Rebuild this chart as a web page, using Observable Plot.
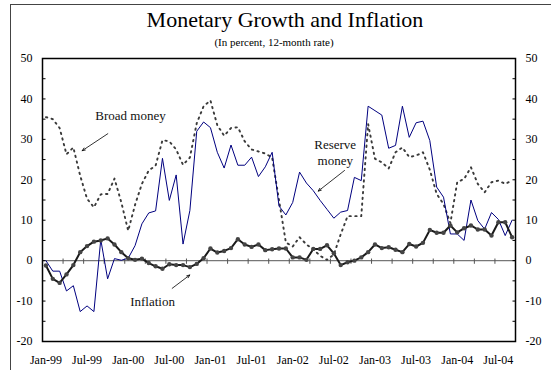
<!DOCTYPE html>
<html>
<head>
<meta charset="utf-8">
<script src="https://cdn.jsdelivr.net/npm/d3@7"></script>
<script src="https://cdn.jsdelivr.net/npm/@observablehq/plot@0.6"></script>
<style>
  html, body { margin: 0; padding: 0; background: #fff; }
  #wrap { position: relative; width: 551px; height: 370px; overflow: hidden;
          font-family: "Liberation Serif", "Times New Roman", serif; color: #000; }
  #border { position: absolute; left: 10px; top: 4px; width: 700px; height: 500px;
            border: 1px solid #444; box-sizing: border-box; }
  #title { position: absolute; left: 0; width: 570px; top: 8.6px; text-align: center;
           font-size: 22px; line-height: 22px; white-space: nowrap; }
  #subtitle { position: absolute; left: 0; width: 548px; top: 37px; text-align: center;
              font-size: 11px; line-height: 11px; white-space: nowrap; }
  #chart { position: absolute; left: 0; top: 0; }
</style>
</head>
<body>
<div id="wrap">
  <div id="border"></div>
  <div id="title">Monetary Growth and Inflation</div>
  <div id="subtitle">(In percent, 12-month rate)</div>
  <div id="chart"></div>
</div>
<script>
// Monthly data, Jan-99 .. Sep-04 (69 months)
const broadMoney = [
  35.5, 35.0, 32.8, 26.3, 28.0, 21.0, 15.3, 13.2, 16.4, 16.5, 20.3, 14.4,
  7.4, 13.8, 19.0, 22.3, 23.5, 29.8, 29.5, 27.5, 23.7, 25.5, 34.0, 38.2,
  39.6, 33.5, 30.9, 32.8, 33.0, 29.5, 27.5, 27.0, 26.5, 25.5, 15.0, 4.5,
  3.5, 5.8, 4.0, 2.8, 1.2, 0.2, 1.5, 6.5, 11.0, 11.0, 11.0, 33.8,
  25.2, 24.3, 22.8, 26.8, 28.0, 25.6, 26.0, 26.8, 22.5, 16.5, 14.0, 9.3,
  19.4, 20.2, 23.1, 19.0, 16.9, 19.4, 19.8, 19.0, 19.8
];
const reserveMoney = [
  0.0, -2.6, -2.6, -7.5, -6.2, -12.6, -11.2, -12.6, 5.2, -4.5, 0.5, 0.1,
  0.6, 3.7, 9.1, 11.8, 12.3, 25.3, 14.9, 21.2, 4.1, 12.4, 32.0, 34.3,
  32.9, 26.8, 22.9, 28.6, 23.6, 23.6, 25.6, 20.8, 23.2, 26.8, 13.5, 11.3,
  14.4, 21.9, 19.2, 17.3, 14.9, 12.7, 10.5, 12.0, 12.4, 20.6, 19.8, 38.2,
  37.1, 36.0, 27.8, 28.5, 38.2, 30.5, 34.1, 34.5, 29.7, 18.2, 15.7, 6.6,
  6.6, 5.0, 15.0, 9.9, 7.8, 11.9, 10.2, 6.2, 10.0
];
const inflation = [
  -1.2, -4.5, -5.5, -3.4, -1.1, 2.1, 3.6, 4.7, 5.0, 5.5, 4.0, 2.1,
  0.6, 0.2, 0.5, -0.6, -1.4, -2.0, -0.9, -1.1, -1.1, -1.6, -0.8, 0.6,
  3.0, 2.0, 2.4, 3.1, 5.3, 4.0, 3.4, 4.0, 2.6, 2.8, 3.0, 3.0,
  0.8, 0.8, 0.2, 2.9, 2.9, 3.8, 1.8, -1.1, -0.4, 0.0, 0.8, 2.1,
  4.0, 3.1, 3.3, 2.7, 2.1, 4.1, 3.5, 4.4, 7.6, 6.9, 6.9, 8.7,
  7.0, 8.0, 8.7, 7.7, 7.7, 6.2, 9.5, 9.5, 5.8
];
const xTickLabels = ["Jan-99","Jul-99","Jan-00","Jul-00","Jan-01","Jul-01",
                     "Jan-02","Jul-02","Jan-03","Jul-03","Jan-04","Jul-04"];
const yTicks = [-20, -10, 0, 10, 20, 30, 40, 50];
const yMinorTicks = d3.range(-20, 51, 5);

const n = inflation.length;
const data = d3.range(n).map(i => ({i, broad: broadMoney[i], reserve: reserveMoney[i], inflation: inflation[i]}));
const labelIdx = xTickLabels.map((_, k) => k * 6);
const catTicks = d3.range(3, n, 3).map(k => k - 0.5);

const chart = Plot.plot({
  width: 551, height: 370,
  marginLeft: 42, marginRight: 36, marginTop: 58, marginBottom: 29,
  style: {fontFamily: "'Liberation Serif', 'Times New Roman', serif", fontSize: "12px", background: "transparent", color: "#000"},
  x: {type: "linear", domain: [-0.5, n - 0.5], label: null},
  y: {domain: [-20, 50], label: null},
  marks: [
    Plot.ruleY([0], {stroke: "#777", strokeWidth: 1.2}),
    Plot.ruleX(catTicks, {x: d => d, y1: 0.4, y2: -0.9, stroke: "#555", strokeWidth: 1}),
    Plot.axisY({anchor: "left", ticks: yTicks, tickSize: 0, tickPadding: 10, tickFormat: d => d, fontSize: 12}),
    Plot.axisY({anchor: "right", ticks: yTicks, tickSize: 0, tickPadding: 10, tickFormat: d => d, fontSize: 12}),
    Plot.axisY({anchor: "left", ticks: yMinorTicks, tickSize: -3.5, tickFormat: () => "", stroke: "#000"}),
    Plot.axisY({anchor: "right", ticks: yMinorTicks, tickSize: -3.5, tickFormat: () => "", stroke: "#000"}),
    Plot.axisX({anchor: "bottom", ticks: labelIdx, tickSize: 0, tickPadding: 14, tickFormat: i => xTickLabels[i / 6], fontSize: 12}),
    Plot.line(data, {x: "i", y: "broad", stroke: "#3a3a3a", strokeWidth: 1.9, strokeDasharray: "1.4,4.4"}),
    Plot.line(data, {x: "i", y: "reserve", stroke: "#00007f", strokeWidth: 1}),
    Plot.line(data, {x: "i", y: "inflation", stroke: "#1a1a1a", strokeWidth: 2}),
    Plot.dot(data, {x: "i", y: "inflation", r: 2.2, fill: "#444", stroke: "none"}),
    Plot.frame({stroke: "#000", strokeWidth: 1.5}),
    Plot.text(["Broad money"], {x: 12.34, y: 35.9, text: d => d, fontSize: 13, fill: "#111"}),
    Plot.text(["Reserve\nmoney"], {x: 42.2, y: 27.0, text: d => d, fontSize: 13, lineHeight: 1.28, fill: "#111"}),
    Plot.text(["Inflation"], {x: 15.55, y: -10.1, text: d => d, fontSize: 13, fill: "#111"}),
    Plot.arrow([0], {x1: 9.03, y1: 31.4, x2: 5.29, y2: 27.2, stroke: "#000", strokeWidth: 0.8, headLength: 6, headAngle: 45}),
    Plot.arrow([0], {x1: 43.56, y1: 22.3, x2: 39.72, y2: 17.2, stroke: "#000", strokeWidth: 0.8, headLength: 6, headAngle: 45}),
    Plot.arrow([0], {x1: 18.42, y1: -6.85, x2: 20.99, y2: -3.55, stroke: "#000", strokeWidth: 0.8, headLength: 6, headAngle: 45})
  ]
});
document.getElementById("chart").appendChild(chart);
</script>
</body>
</html>
